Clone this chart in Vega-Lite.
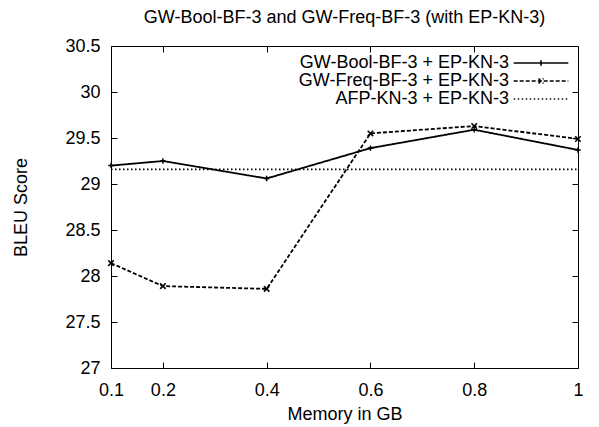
{
  "$schema": "https://vega.github.io/schema/vega-lite/v6.json",
  "width": 467,
  "height": 322,
  "autosize": {"type": "none"},
  "padding": {"left": 111, "top": 46, "right": 21, "bottom": 59},
  "background": "white",
  "config": {
    "font": "Liberation Sans",
    "view": {"stroke": "black", "strokeWidth": 1},
    "axis": {"grid": false, "domain": false, "zindex": 1, "labelColor": "black", "titleColor": "black", "tickColor": "black", "tickWidth": 1, "labelFont": "Liberation Sans", "titleFont": "Liberation Sans", "labelFontSize": 18, "titleFontSize": 18, "titleFontWeight": "normal", "labelFlush": false}
  },
  "title": {"text": "GW-Bool-BF-3 and GW-Freq-BF-3 (with EP-KN-3)", "fontSize": 18, "fontWeight": "normal", "font": "Liberation Sans", "color": "black", "offset": 10, "anchor": "middle"},
  "data": {"values": [
    {"mem": 0.1, "bleu": 29.20, "series": "GW-Bool-BF-3 + EP-KN-3"},
    {"mem": 0.2, "bleu": 29.25, "series": "GW-Bool-BF-3 + EP-KN-3"},
    {"mem": 0.4, "bleu": 29.06, "series": "GW-Bool-BF-3 + EP-KN-3"},
    {"mem": 0.6, "bleu": 29.39, "series": "GW-Bool-BF-3 + EP-KN-3"},
    {"mem": 0.8, "bleu": 29.59, "series": "GW-Bool-BF-3 + EP-KN-3"},
    {"mem": 1.0, "bleu": 29.37, "series": "GW-Bool-BF-3 + EP-KN-3"},
    {"mem": 0.1, "bleu": 28.14, "series": "GW-Freq-BF-3 + EP-KN-3"},
    {"mem": 0.2, "bleu": 27.89, "series": "GW-Freq-BF-3 + EP-KN-3"},
    {"mem": 0.4, "bleu": 27.86, "series": "GW-Freq-BF-3 + EP-KN-3"},
    {"mem": 0.6, "bleu": 29.55, "series": "GW-Freq-BF-3 + EP-KN-3"},
    {"mem": 0.8, "bleu": 29.63, "series": "GW-Freq-BF-3 + EP-KN-3"},
    {"mem": 1.0, "bleu": 29.49, "series": "GW-Freq-BF-3 + EP-KN-3"},
    {"mem": 0.1, "bleu": 29.16, "series": "AFP-KN-3 + EP-KN-3"},
    {"mem": 1.0, "bleu": 29.16, "series": "AFP-KN-3 + EP-KN-3"}
  ]},
  "resolve": {"axis": {"x": "independent", "y": "independent"}},
  "layer": [
    {
      "mark": {"type": "line", "color": "black", "strokeWidth": 1.8},
      "encoding": {
        "x": {"field": "mem", "type": "quantitative", "scale": {"domain": [0.1, 1], "nice": false, "zero": false},
              "axis": {"orient": "bottom", "values": [0.1, 0.2, 0.4, 0.6, 0.8, 1], "format": ".2~f", "tickSize": -6, "labelPadding": 19, "title": "Memory in GB", "titlePadding": 6}},
        "y": {"field": "bleu", "type": "quantitative", "scale": {"domain": [27, 30.5], "nice": false, "zero": false},
              "axis": {"orient": "left", "values": [27, 27.5, 28, 28.5, 29, 29.5, 30, 30.5], "format": "~g", "tickSize": -6, "labelPadding": 17, "title": "BLEU Score", "titlePadding": 34}},
        "strokeDash": {"field": "series", "type": "nominal",
          "scale": {"domain": ["GW-Bool-BF-3 + EP-KN-3", "GW-Freq-BF-3 + EP-KN-3", "AFP-KN-3 + EP-KN-3"], "range": [[1, 0], [4, 2], [1.5, 2.5]]},
          "legend": {"title": null, "orient": "none", "legendX": 421, "legendY": 8, "padding": 0,
            "labelFont": "Liberation Sans", "labelFontSize": 18, "labelColor": "black", "labelAlign": "right", "labelOffset": -41,
            "symbolSize": 196, "symbolStrokeColor": "black", "symbolStrokeWidth": 1.6, "rowPadding": 0, "labelLimit": 400,
            "encode": {"symbols": {"update": {
              "shape": {"signal": "datum.value === 'GW-Bool-BF-3 + EP-KN-3' ? 'M-3.9,0L3.9,0M0,-0.4L0,0.4' : datum.value === 'GW-Freq-BF-3 + EP-KN-3' ? 'M-3.9,0L3.9,0M-0.35,-0.35L0.35,0.35M-0.35,0.35L0.35,-0.35' : 'M-3.9,0L3.9,0'"},
              "stroke": {"value": "black"}, "strokeWidth": {"value": 1.6}, "opacity": {"value": 1}, "strokeOpacity": {"value": 1}, "fill": {"value": "transparent"}}}}}
        }
      }
    },
    {
      "transform": [{"filter": "datum.series !== 'AFP-KN-3 + EP-KN-3'"}],
      "mark": {"type": "point", "filled": false, "color": "black", "strokeWidth": 1.5, "size": 30, "opacity": 1},
      "encoding": {
        "x": {"field": "mem", "type": "quantitative", "axis": {"orient": "top", "values": [0.2, 0.4, 0.6, 0.8], "labels": false, "title": null, "tickSize": -6}},
        "y": {"field": "bleu", "type": "quantitative", "axis": {"orient": "right", "values": [27.5, 28, 28.5, 29, 29.5, 30], "labels": false, "title": null, "tickSize": -6}},
        "shape": {"field": "series", "type": "nominal", "legend": null,
          "scale": {"domain": ["GW-Bool-BF-3 + EP-KN-3", "GW-Freq-BF-3 + EP-KN-3"], "range": ["M-1,0L1,0M0,-1L0,1", "M-1,-1L1,1M-1,1L1,-1"]}}
      }
    }
  ]
}
